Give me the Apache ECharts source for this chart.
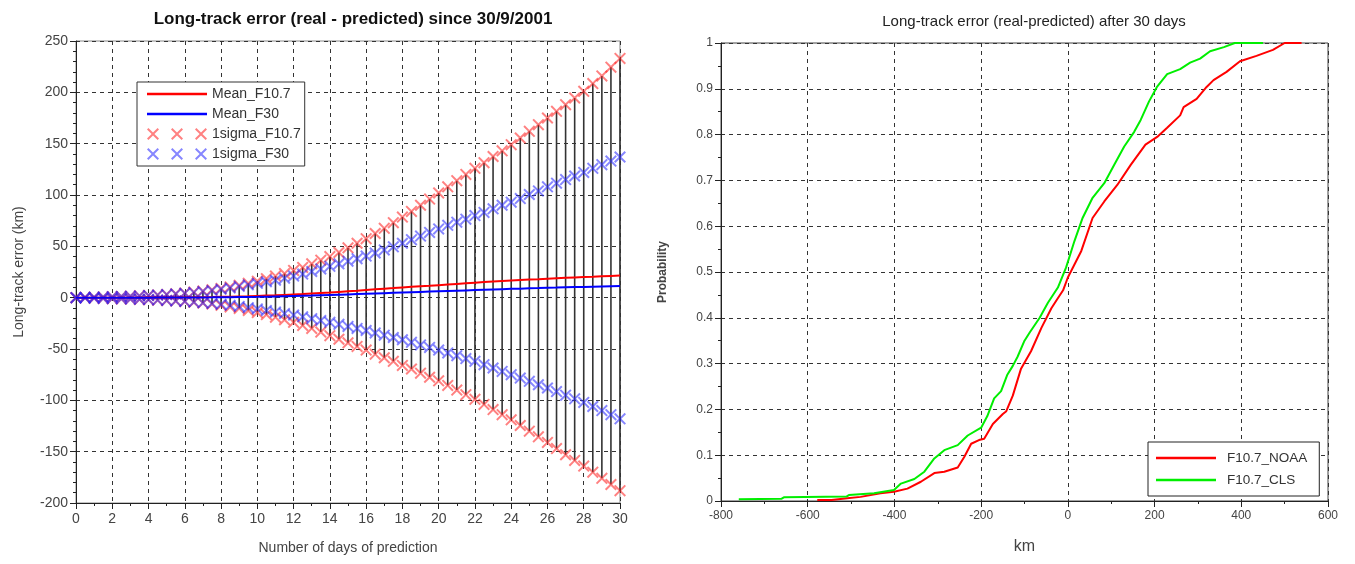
<!DOCTYPE html>
<html>
<head>
<meta charset="utf-8">
<script src="https://cdn.jsdelivr.net/npm/echarts@6/dist/echarts.min.js"></script>
<style>
html,body{margin:0;padding:0;background:#fff;}
#c{width:1355px;height:564px;}
</style>
</head>
<body>
<div id="c"></div>
<script>
// ---------- Left chart data ----------
var days = [0,0.5,1,1.5,2,2.5,3,3.5,4,4.5,5,5.5,6,6.5,7,7.5,8,8.5,9,9.5,10,10.5,11,11.5,12,12.5,13,13.5,14,14.5,15,15.5,16,16.5,17,17.5,18,18.5,19,19.5,20,20.5,21,21.5,22,22.5,23,23.5,24,24.5,25,25.5,26,26.5,27,27.5,28,28.5,29,29.5,30];
var meanF107 = [0,0,0,0,0,0,0,0,0.1,0.1,0.2,0.2,0.3,0.4,0.5,0.6,0.8,1,1.2,1.4,1.7,2,2.3,2.7,3.1,3.5,4,4.5,5,5.6,6.2,6.8,7.5,8.1,8.7,9.3,10,10.6,11.1,11.6,12.2,12.8,13.4,14,14.6,15.2,15.8,16.3,16.8,17.2,17.6,18,18.5,18.9,19.3,19.7,20.1,20.4,20.8,21.2,21.6];
var meanF30 = [0,0,0,0,0,0,0,0,0,0.05,0.1,0.1,0.15,0.2,0.25,0.3,0.4,0.5,0.6,0.7,0.8,1,1.2,1.4,1.6,1.8,2,2.3,2.6,2.9,3.2,3.5,3.8,4.1,4.4,4.7,5,5.3,5.6,5.9,6.2,6.5,6.8,7.1,7.4,7.7,8,8.3,8.6,8.8,9.1,9.3,9.6,9.8,10.1,10.3,10.5,10.7,10.9,11.1,11.3];
var sigmaF107Up = [0,0.3,0.5,0.7,1,1.2,1.5,1.8,2.2,2.7,3.2,3.8,4.5,5.4,6.4,7.6,9,10.5,12,14,16,18.5,21,23.5,26.5,29.5,33,36.5,40,44,48.5,53,57.5,62.5,67.5,73,78.5,84,90,96,102,108,114,120,126,131.5,137.5,143,149,155.5,162,168.5,175,181.5,188,194.5,201,208.5,216,224.5,233];
var sigmaF107Lo = [0,-0.3,-0.5,-0.7,-1,-1.2,-1.4,-1.7,-2,-2.4,-2.8,-3.3,-3.8,-4.5,-5.3,-6.2,-7.5,-9,-10.5,-12.5,-14.5,-16.5,-19,-21.5,-24,-27,-30,-33.5,-37,-40.5,-44,-47.5,-51,-55,-58.5,-62,-66,-69.5,-73.5,-77.5,-81,-85.5,-90,-94.5,-99,-104,-109,-114,-119,-124.5,-130,-135.5,-141,-147,-153,-158.5,-164,-170,-176,-182,-188];
var sigmaF30Up = [0,0.3,0.5,0.7,1,1.2,1.4,1.7,2.1,2.5,3,3.6,4.3,5.1,6,7,8.2,9.5,11,12.5,14,15.5,17,19,21,23,25.5,28,30.5,33,35.5,38,40.5,43.5,46.5,49.5,53,56.5,60,63.5,67,70.5,73.5,76.5,80,83,86.5,90,93,96.5,100.5,104,108,111.5,115,118.5,122,126,129.5,133,137];
var sigmaF30Lo = [0,-0.3,-0.5,-0.7,-0.9,-1.1,-1.3,-1.6,-1.9,-2.3,-2.7,-3.2,-3.7,-4.3,-5,-5.7,-6.5,-7.5,-8.5,-9.7,-11,-12.5,-14,-15.5,-17,-18.7,-20.5,-22.3,-24,-26,-28,-30,-32,-34.3,-36.5,-38.8,-41,-43.5,-46,-48.5,-51,-53.8,-56.5,-59.3,-62,-65.3,-68.5,-71.8,-75,-78.3,-81.5,-84.8,-88,-91.5,-95,-98.5,-102,-106,-110,-114,-118];

// ---------- Right chart data (km, cumulative probability) ----------
var cdfNOAA = [[-578,0.002],[-545,0.002],[-509,0.006],[-478,0.009],[-432,0.017],[-401,0.02],[-370,0.027],[-339,0.042],[-308,0.061],[-285,0.064],[-254,0.073],[-239,0.096],[-223,0.125],[-205,0.133],[-193,0.136],[-173,0.168],[-150,0.19],[-142,0.196],[-127,0.23],[-108,0.289],[-85,0.327],[-61,0.378],[-38,0.421],[-25,0.44],[-11,0.46],[0,0.488],[31,0.546],[57,0.618],[84,0.654],[114,0.69],[145,0.734],[179,0.778],[206,0.795],[229,0.815],[259,0.842],[267,0.86],[297,0.878],[320,0.904],[336,0.919],[366,0.937],[397,0.96],[435,0.972],[473,0.985],[500,1.0],[539,1.0]];
var cdfCLS = [[-759,0.004],[-660,0.005],[-655,0.008],[-510,0.01],[-505,0.013],[-447,0.017],[-401,0.024],[-385,0.038],[-354,0.048],[-331,0.064],[-308,0.093],[-285,0.111],[-254,0.122],[-231,0.143],[-200,0.16],[-186,0.185],[-170,0.224],[-154,0.24],[-140,0.275],[-127,0.295],[-116,0.315],[-100,0.35],[-88,0.368],[-65,0.40],[-46,0.433],[-23,0.466],[-4,0.51],[15,0.567],[34,0.618],[57,0.662],[84,0.694],[107,0.734],[130,0.774],[153,0.806],[168,0.832],[187,0.872],[206,0.905],[229,0.932],[259,0.943],[282,0.957],[305,0.966],[328,0.982],[360,0.991],[385,1.0],[450,1.0]];

// ---------- Build ----------
function zip(a, b) { return a.map(function (v, i) { return [v, b[i]]; }); }
var barData = days.map(function (d, i) { return [d, sigmaF107Lo[i], sigmaF107Up[i]]; });

function crossAt(x) {
  var t = 1.4;
  return 'M' + x + ',' + t + ' L' + (x + t) + ',0 L' + (x + 6) + ',' + (6 - t) + ' L' + (x + 12 - t) + ',0 L' + (x + 12) + ',' + t +
    ' L' + (x + 6 + t) + ',6 L' + (x + 12) + ',' + (12 - t) + ' L' + (x + 12 - t) + ',12 L' + (x + 6) + ',' + (6 + t) +
    ' L' + (x + t) + ',12 L' + x + ',' + (12 - t) + ' L' + (x + 6 - t) + ',6 Z';
}
var crossSym = 'path://' + crossAt(0);
var crossLegend = 'path://' + crossAt(0) + ' ' + crossAt(24) + ' ' + crossAt(48);
var lineLegend = 'path://M0,0 L60,0 L60,2.6 L0,2.6 Z';

var FONT = '"Liberation Sans", Arial, sans-serif';
var gridDash = { color: '#333', width: 1, type: [4, 4] };

function xAx(grid, min, max, interval, name, fs, nameFs, nameGap, nameBold) {
  return {
    type: 'value', gridIndex: grid, min: min, max: max, interval: interval,
    name: name, nameLocation: 'middle', nameGap: nameGap,
    nameTextStyle: { fontSize: nameFs, color: '#444', fontFamily: FONT, fontWeight: nameBold ? 'bold' : 'normal' },
    axisLine: { show: true, onZero: false, lineStyle: { color: '#222', width: 1 } },
    axisTick: { show: true, inside: false, length: 6, lineStyle: { color: '#222' } },
    minorTick: { show: true, splitNumber: 2, length: 3, lineStyle: { color: '#222' } },
    splitLine: { show: true, lineStyle: gridDash },
    axisLabel: { fontSize: fs, color: '#444', fontFamily: FONT, margin: 9 }
  };
}
function yAx(grid, min, max, interval, name, fs, nameFs, nameGap, nameBold, minorSplit) {
  return {
    type: 'value', gridIndex: grid, min: min, max: max, interval: interval,
    name: name, nameLocation: 'middle', nameGap: nameGap, nameRotate: 90,
    nameTextStyle: { fontSize: nameFs, color: '#444', fontFamily: FONT, fontWeight: nameBold ? 'bold' : 'normal' },
    axisLine: { show: true, onZero: false, lineStyle: { color: '#222', width: 1 } },
    axisTick: { show: true, inside: false, length: 6, lineStyle: { color: '#222' } },
    minorTick: { show: true, splitNumber: minorSplit, length: 3, lineStyle: { color: '#222' } },
    splitLine: { show: true, lineStyle: gridDash },
    axisLabel: { fontSize: fs, color: '#444', fontFamily: FONT, margin: 8 }
  };
}

var chart = echarts.init(document.getElementById('c'), null, { renderer: 'canvas' });
chart.setOption({
  animation: false,
  backgroundColor: '#fff',
  textStyle: { fontFamily: FONT },
  title: [
    { text: 'Long-track error (real - predicted) since 30/9/2001', left: 348, top: 6, textAlign: 'center',
      textStyle: { fontSize: 17, fontWeight: 'bold', color: '#111', fontFamily: FONT } },
    { text: 'Long-track error (real-predicted) after 30 days', left: 1029, top: 9, textAlign: 'center',
      textStyle: { fontSize: 15, fontWeight: 'normal', color: '#222', fontFamily: FONT } }
  ],
  grid: [
    { left: 76, right: 735, top: 41, bottom: 61, show: true, borderColor: '#888', borderWidth: 1, backgroundColor: '#fff', containLabel: false, outerBoundsMode: 'none' },
    { left: 721, right: 27, top: 43, bottom: 63, show: true, borderColor: '#444', borderWidth: 1, backgroundColor: '#fff', containLabel: false, outerBoundsMode: 'none' }
  ],
  xAxis: [
    xAx(0, 0, 30, 2, 'Number of days of prediction', 14, 14, 38, false),
    xAx(1, -800, 600, 200, 'km', 12, 16, 38, false)
  ],
  yAxis: [
    yAx(0, -200, 250, 50, 'Long-track error (km)', 14, 14, 50, false, 5),
    yAx(1, 0, 1, 0.1, 'Probability', 12, 12, 52, true, 2)
  ],
  legend: [
    { orient: 'vertical', left: 137, top: 82, padding: [5, 4, 5, 10], itemGap: 6, itemWidth: 60, itemHeight: 12,
      backgroundColor: '#fff', borderColor: '#333', borderWidth: 1, borderRadius: 0,
      textStyle: { fontSize: 14, color: '#333', fontFamily: FONT },
      selectedMode: false,
      data: [
        { name: 'Mean_F10.7', icon: lineLegend },
        { name: 'Mean_F30', icon: lineLegend },
        { name: '1sigma_F10.7', icon: crossLegend },
        { name: '1sigma_F30', icon: crossLegend }
      ] },
    { orient: 'vertical', left: 1148, top: 442, padding: [9, 12, 9, 8], itemGap: 8, itemWidth: 60, itemHeight: 12,
      backgroundColor: '#fff', borderColor: '#222', borderWidth: 1, borderRadius: 0,
      textStyle: { fontSize: 13.5, color: '#333', fontFamily: FONT, padding: [0, 0, 0, 6] },
      selectedMode: false,
      data: [
        { name: 'F10.7_NOAA', icon: lineLegend },
        { name: 'F10.7_CLS', icon: lineLegend }
      ] }
  ],
  series: [
    {
      type: 'custom', name: 'bars', xAxisIndex: 0, yAxisIndex: 0, z: 1,
      data: barData, encode: { x: 0, y: [1, 2] },
      renderItem: function (params, api) {
        var p1 = api.coord([api.value(0), api.value(1)]);
        var p2 = api.coord([api.value(0), api.value(2)]);
        return { type: 'line', shape: { x1: p1[0], y1: p1[1], x2: p2[0], y2: p2[1] },
                 style: { stroke: '#333', lineWidth: 1.6 } };
      }
    },
    { type: 'scatter', name: '1sigma_F10.7', xAxisIndex: 0, yAxisIndex: 0, z: 3, symbol: crossSym, symbolSize: 12,
      itemStyle: { color: 'rgba(255,30,30,0.7)' }, data: zip(days, sigmaF107Up) },
    { type: 'scatter', name: '1sigma_F10.7', xAxisIndex: 0, yAxisIndex: 0, z: 3, symbol: crossSym, symbolSize: 12,
      itemStyle: { color: 'rgba(255,30,30,0.7)' }, data: zip(days, sigmaF107Lo) },
    { type: 'scatter', name: '1sigma_F30', xAxisIndex: 0, yAxisIndex: 0, z: 3, symbol: crossSym, symbolSize: 12,
      itemStyle: { color: 'rgba(40,40,255,0.7)' }, data: zip(days, sigmaF30Up) },
    { type: 'scatter', name: '1sigma_F30', xAxisIndex: 0, yAxisIndex: 0, z: 3, symbol: crossSym, symbolSize: 12,
      itemStyle: { color: 'rgba(40,40,255,0.7)' }, data: zip(days, sigmaF30Lo) },
    { type: 'line', name: 'Mean_F10.7', xAxisIndex: 0, yAxisIndex: 0, z: 4, showSymbol: false,
      lineStyle: { color: '#ff0000', width: 2 }, itemStyle: { color: '#ff0000' }, data: zip(days, meanF107) },
    { type: 'line', name: 'Mean_F30', xAxisIndex: 0, yAxisIndex: 0, z: 4, showSymbol: false,
      lineStyle: { color: '#0000ff', width: 2 }, itemStyle: { color: '#0000ff' }, data: zip(days, meanF30) },
    { type: 'line', name: 'F10.7_NOAA', xAxisIndex: 1, yAxisIndex: 1, z: 4, showSymbol: false,
      lineStyle: { color: '#ff0000', width: 2 }, itemStyle: { color: '#ff0000' }, data: cdfNOAA },
    { type: 'line', name: 'F10.7_CLS', xAxisIndex: 1, yAxisIndex: 1, z: 4, showSymbol: false,
      lineStyle: { color: '#00ee00', width: 2 }, itemStyle: { color: '#00ee00' }, data: cdfCLS }
  ]
});
</script>
</body>
</html>
